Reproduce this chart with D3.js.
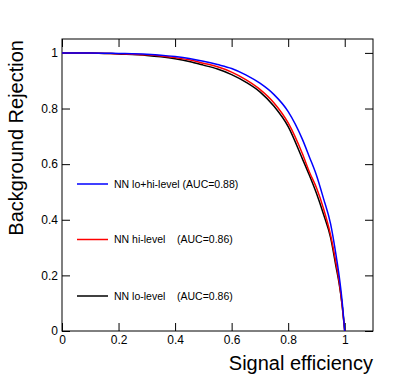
<!DOCTYPE html>
<html>
<head>
<meta charset="utf-8">
<script src="https://cdn.jsdelivr.net/npm/d3@7"></script>
<style>
  body { margin: 0; background: #fff; }
  svg { display: block; font-family: "Liberation Sans", Arial, sans-serif; }
</style>
</head>
<body>
<script>
// signal efficiency sample points
const eff = [0, 0.1, 0.2, 0.3, 0.35, 0.4, 0.45, 0.5, 0.55, 0.6, 0.65, 0.7, 0.75, 0.8, 0.85, 0.875, 0.9, 0.925, 0.95, 0.97, 0.98, 0.99, 1.0];

// background rejection for each network
const rejLoHi = [1.0, 1.0, 0.998, 0.995, 0.992, 0.987, 0.980, 0.970, 0.958, 0.944, 0.921, 0.891, 0.850, 0.789, 0.690, 0.626, 0.560, 0.476, 0.385, 0.268, 0.200, 0.115, 0];
const rejHi   = [1.0, 1.0, 0.997, 0.993, 0.989, 0.983, 0.975, 0.963, 0.950, 0.931, 0.904, 0.869, 0.820, 0.748, 0.638, 0.572, 0.515, 0.440, 0.345, 0.240, 0.180, 0.100, 0];
const rejLo   = [1.0, 1.0, 0.996, 0.991, 0.986, 0.979, 0.969, 0.956, 0.942, 0.922, 0.895, 0.860, 0.808, 0.735, 0.620, 0.560, 0.495, 0.420, 0.336, 0.227, 0.172, 0.100, 0];

const seriesNames = ["NN lo+hi-level (AUC=0.88)", "NN hi-level    (AUC=0.86)", "NN lo-level    (AUC=0.86)"];
const seriesColors = ["#0000ff", "#ff0000", "#000000"];
const tickVals = [0, 0.2, 0.4, 0.6, 0.8, 1];

const W = 415, H = 390;
const padL = 62, padR = 373, padT = 39, padB = 331;

const svg = d3.select("body").append("svg")
    .attr("width", W)
    .attr("height", H);

const x = d3.scaleLinear().domain([0, 1.1]).range([padL, padR]);
const y = d3.scaleLinear().domain([0, 1.05]).range([padB, padT]);

const fmt = d => d === 0 ? "0" : d === 1 ? "1" : d3.format(".1f")(d);

function styleAxis(g) {
    g.select(".domain").remove();
    g.selectAll(".tick line").attr("stroke", "#000");
    g.selectAll(".tick text").attr("font-size", 12).attr("fill", "#000")
        .attr("font-family", "Liberation Sans, Arial, sans-serif");
}

svg.append("g")
    .attr("transform", `translate(0,${padB})`)
    .call(d3.axisBottom(x).tickValues(tickVals).tickFormat(fmt).tickSize(-8).tickPadding(4))
    .call(styleAxis);

svg.append("g")
    .attr("transform", `translate(${padL},0)`)
    .call(d3.axisLeft(y).tickValues(tickVals).tickFormat(fmt).tickSize(-8).tickPadding(4))
    .call(styleAxis);

svg.append("g")
    .attr("transform", `translate(0,${padT})`)
    .call(d3.axisTop(x).tickValues(tickVals).tickFormat("").tickSize(-8))
    .call(styleAxis);

svg.append("g")
    .attr("transform", `translate(${padR},0)`)
    .call(d3.axisRight(y).tickValues(tickVals).tickFormat("").tickSize(-8))
    .call(styleAxis);

// frame
svg.append("rect")
    .attr("x", padL).attr("y", padT)
    .attr("width", padR - padL).attr("height", padB - padT)
    .attr("fill", "none")
    .attr("stroke", "#000")
    .attr("stroke-width", 1);

const line = d3.line()
    .x((d, i) => x(eff[i]))
    .y(d => y(d))
    .curve(d3.curveMonotoneX);

const allSeries = [rejLoHi, rejHi, rejLo];

// draw black first, blue on top like the reference
[2, 1, 0].forEach(k => {
    svg.append("path")
        .datum(allSeries[k])
        .attr("d", line)
        .attr("fill", "none")
        .attr("stroke", seriesColors[k])
        .attr("stroke-width", 1.5);
});

// legend
const legendY = [184, 239.5, 296];
seriesNames.forEach((name, k) => {
    svg.append("line")
        .attr("x1", 77).attr("x2", 108)
        .attr("y1", legendY[k]).attr("y2", legendY[k])
        .attr("stroke", seriesColors[k])
        .attr("stroke-width", 1.5);
    svg.append("text")
        .attr("x", 114)
        .attr("y", legendY[k] + 3.6)
        .attr("font-size", 10.5)
        .style("white-space", "pre")
        .text(name);
});

// axis titles
svg.append("text")
    .attr("x", padR)
    .attr("y", 369.5)
    .attr("text-anchor", "end")
    .attr("font-size", 20)
    .text("Signal efficiency");

svg.append("text")
    .attr("transform", `translate(23,${padT + 1}) rotate(-90)`)
    .attr("text-anchor", "end")
    .attr("font-size", 20)
    .text("Background Rejection");
</script>
</body>
</html>
